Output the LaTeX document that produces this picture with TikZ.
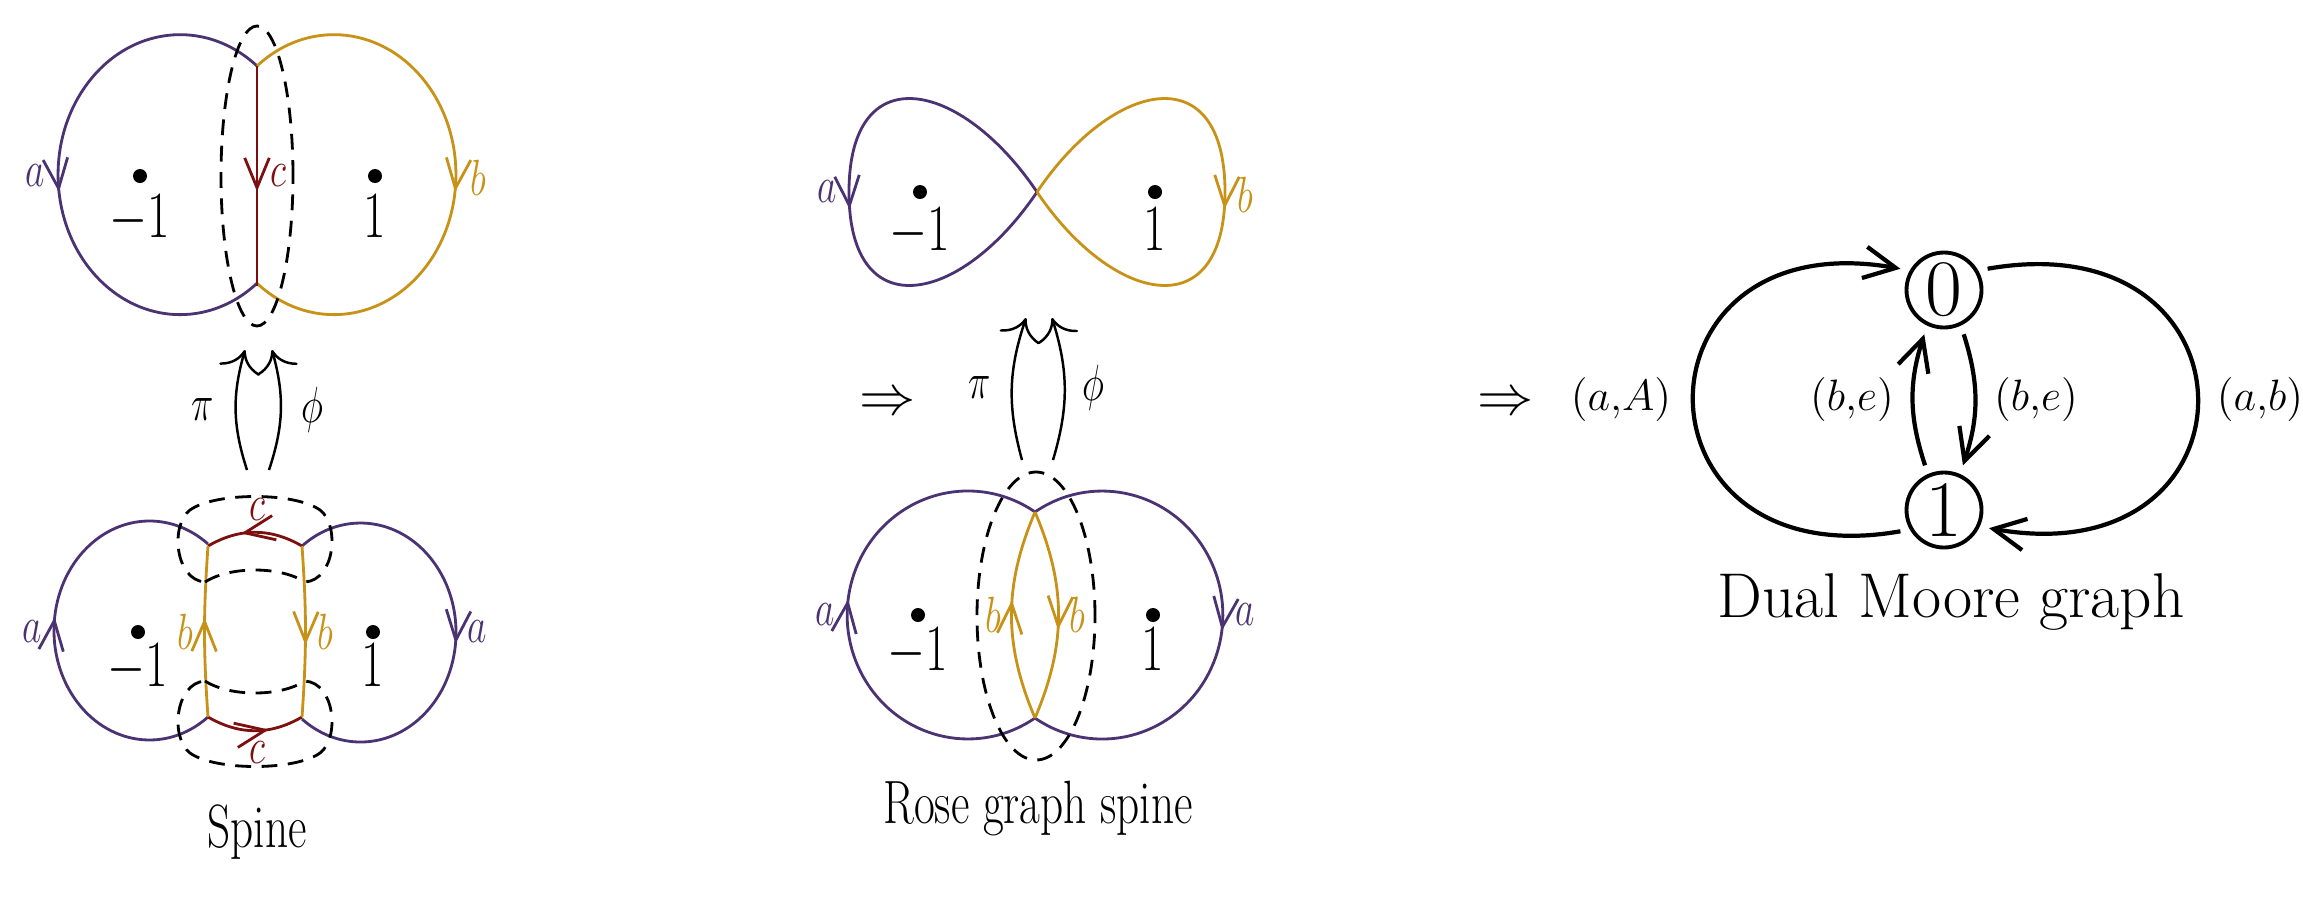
\RequirePackage{fix-cm}
\documentclass[tikz,border=0pt]{standalone}
\usetikzlibrary{arrows.meta,decorations.markings}
\definecolor{vio}{RGB}{75,50,115}
\definecolor{gold}{RGB}{200,146,25}
\definecolor{wine}{RGB}{125,15,15}
\newcommand{\sx}[1]{\scalebox{0.74}[1]{#1}}
\tikzset{
  curve/.style={line width=0.8pt},
  dsh/.style={line width=0.8pt, dash pattern=on 4.5pt off 3pt},
  marr/.style={postaction={decorate,decoration={markings,mark=at position #1 with {\arrow{Straight Barb[length=8.5pt,width=7pt]}}}}},
  lbl/.style={font=\fontsize{14.5}{17}\selectfont, inner sep=0pt},
  num/.style={font=\fontsize{18.8}{22}\selectfont, anchor=base, inner sep=0pt},
  ttl/.style={font=\fontsize{17.4}{20}\selectfont, anchor=base, inner sep=0pt},
  maparr/.style={line width=0.7pt, -{Computer Modern Rightarrow[length=6pt,width=12pt]}},
  gnode/.style={circle, draw, line width=1.1pt, minimum size=0.75cm, inner sep=0pt, outer sep=0.11cm, font=\fontsize{22.8}{26}\selectfont},
  garr/.style={line width=1.2pt, -{Straight Barb[length=9pt,width=9pt]}},
  elbl/.style={font=\fontsize{12.5}{15}\selectfont, inner sep=0pt},
  impl/.style={font=\fontsize{16}{18}\selectfont, anchor=base, inner sep=0pt},
  dotp/.style={fill, circle, inner sep=0pt, minimum size=0.14cm},
}
\begin{document}
\begin{tikzpicture}
\useasboundingbox (0,0) rectangle (23.03,-9.03);

% ---------------- Top left ----------------
\coordinate (tlJ1) at (2.57,-0.66);
\coordinate (tlJ2) at (2.57,-2.86);
\draw[curve, vio, marr=0.53] (tlJ1) arc[start angle=50.9, end angle=309.1, x radius=1.22, y radius=1.40];
\draw[curve, gold, marr=0.53] (tlJ1) arc[start angle=129.1, end angle=-129.1, x radius=1.22, y radius=1.40];
\draw[curve, wine, marr=0.57] (tlJ1) -- (tlJ2);
\draw[dsh] (2.57,-1.76) ellipse[x radius=0.36, y radius=1.50];
\node[lbl, vio] (tla) at (0.35,-1.76) {\sx{$a$}};
\node[lbl, wine] (tlc) at (2.78,-1.76) {\sx{$c$}};
\node[lbl, gold] (tlb) at (4.78,-1.78) {\sx{$b$}};
\node[dotp] (tld1) at (1.40,-1.76) {};
\node[dotp] (tld2) at (3.75,-1.76) {};
\node[num] (tln1) at (1.40,-2.37) {\sx{$-1$}};
\node[num] (tln2) at (3.75,-2.37) {\sx{$1$}};

% ---------------- maps left ----------------
\coordinate (mlA) at (2.47,-4.70);
\coordinate (mlB) at (2.45,-3.50);
\coordinate (mlC) at (2.69,-4.70);
\coordinate (mlD) at (2.72,-3.50);
\draw[maparr] (mlA) to[bend left=17] (mlB);
\draw[maparr] (mlC) to[bend right=17] (mlD);
\node[lbl] (mlpi) at (2.03,-4.10) {\sx{$\pi$}};
\node[lbl] (mlphi) at (3.12,-4.10) {\sx{$\phi$}};

% ---------------- Bottom left ----------------
\coordinate (A) at (2.08,-5.46);
\coordinate (B) at (3.02,-5.46);
\coordinate (C) at (2.08,-7.17);
\coordinate (D) at (3.02,-7.17);
\draw[curve, vio, marr=0.53] (C) arc[start angle=-52.2, end angle=-307.8, x radius=0.955, y radius=1.095];
\draw[curve, vio, marr=0.525] (B) arc[start angle=127.8, end angle=-127.8, x radius=0.955, y radius=1.095];
\draw[curve, wine, marr=0.64] (B) to[bend right=30] (A);
\draw[curve, wine, marr=0.64] (C) to[bend right=30] (D);
\draw[curve, gold, marr=0.58] (C) to[bend left=4] (A);
\draw[curve, gold, marr=0.58] (B) to[bend left=4] (D);
\draw[dsh] (2.05,-5.82) .. controls (2.30,-5.66) and (2.80,-5.66) .. (3.05,-5.82)
  .. controls (3.35,-5.80) and (3.40,-5.25) .. (3.20,-5.10)
  .. controls (2.95,-4.92) and (2.15,-4.92) .. (1.90,-5.10)
  .. controls (1.70,-5.25) and (1.75,-5.80) .. cycle;
\begin{scope}[shift={(0,-12.63)}, yscale=-1]
\draw[dsh] (2.05,-5.82) .. controls (2.30,-5.66) and (2.80,-5.66) .. (3.05,-5.82)
  .. controls (3.35,-5.80) and (3.40,-5.25) .. (3.20,-5.10)
  .. controls (2.95,-4.92) and (2.15,-4.92) .. (1.90,-5.10)
  .. controls (1.70,-5.25) and (1.75,-5.80) .. cycle;
\end{scope}
\node[lbl, vio] (bla1) at (0.32,-6.32) {\sx{$a$}};
\node[lbl, vio] (bla2) at (4.77,-6.32) {\sx{$a$}};
\node[lbl, gold] (blb1) at (1.85,-6.32) {\sx{$b$}};
\node[lbl, gold] (blb2) at (3.25,-6.32) {\sx{$b$}};
\node[lbl, wine] (blc1) at (2.57,-5.10) {\sx{$c$}};
\node[lbl, wine] (blc2) at (2.57,-7.53) {\sx{$c$}};
\node[dotp] (bld1) at (1.38,-6.32) {};
\node[dotp] (bld2) at (3.73,-6.32) {};
\node[num] (bln1) at (1.38,-6.86) {\sx{$-1$}};
\node[num] (bln2) at (3.73,-6.86) {\sx{$1$}};
\node[ttl] (spine) at (2.57,-8.47) {\sx{Spine}};

% ---------------- Top middle ----------------
\coordinate (X) at (10.37,-1.92);
\coordinate (L) at (8.49,-1.92);
\coordinate (R) at (12.25,-1.92);
\draw[curve, vio, marr=0.53] (X) .. controls +(124:1.36) and +(90:1.36) .. (L) .. controls +(-90:1.36) and +(236:1.36) .. (X);
\draw[curve, gold, marr=0.53] (X) .. controls +(56:1.36) and +(90:1.36) .. (R) .. controls +(-90:1.36) and +(-56:1.36) .. (X);
\node[lbl, vio] (tma) at (8.27,-1.92) {\sx{$a$}};
\node[lbl, gold] (tmb) at (12.45,-1.95) {\sx{$b$}};
\node[dotp] (tmd1) at (9.20,-1.92) {};
\node[dotp] (tmd2) at (11.55,-1.92) {};
\node[num] (tmn1) at (9.20,-2.50) {\sx{$-1$}};
\node[num] (tmn2) at (11.55,-2.50) {\sx{$1$}};

% ---------------- maps middle ----------------
\coordinate (mmA) at (10.22,-4.60);
\coordinate (mmB) at (10.26,-3.18);
\coordinate (mmC) at (10.53,-4.60);
\coordinate (mmD) at (10.52,-3.18);
\draw[maparr] (mmA) to[bend left=17] (mmB);
\draw[maparr] (mmC) to[bend right=17] (mmD);
\node[lbl] (mmpi) at (9.80,-3.88) {\sx{$\pi$}};
\node[lbl] (mmphi) at (10.93,-3.88) {\sx{$\phi$}};

% ---------------- Bottom middle ----------------
\coordinate (P) at (10.35,-5.12);
\coordinate (Q) at (10.35,-7.18);
\draw[curve, vio, marr=0.53] (Q) arc[start angle=-56.2, end angle=-303.8, x radius=1.207, y radius=1.24];
\draw[curve, vio, marr=0.53] (P) arc[start angle=123.8, end angle=-123.8, x radius=1.207, y radius=1.24];
\draw[curve, gold, marr=0.57] (Q) to[bend left=23] (P);
\draw[curve, gold, marr=0.57] (P) to[bend left=23] (Q);
\draw[dsh] (10.36,-6.16) ellipse[x radius=0.59, y radius=1.44];
\node[lbl, vio] (bma1) at (8.25,-6.15) {\sx{$a$}};
\node[lbl, vio] (bma2) at (12.45,-6.15) {\sx{$a$}};
\node[lbl, gold] (bmb1) at (9.93,-6.15) {\sx{$b$}};
\node[lbl, gold] (bmb2) at (10.77,-6.15) {\sx{$b$}};
\node[dotp] (bmd1) at (9.18,-6.15) {};
\node[dotp] (bmd2) at (11.53,-6.15) {};
\node[num] (bmn1) at (9.18,-6.70) {\sx{$-1$}};
\node[num] (bmn2) at (11.53,-6.70) {\sx{$1$}};
\node[ttl] (rose) at (10.38,-8.23) {\sx{Rose graph spine}};

% ---------------- implications ----------------
\node[impl] (imp1) at (8.88,-4.14) {$\Rightarrow$};
\node[impl] (imp2) at (15.06,-4.14) {$\Rightarrow$};

% ---------------- Dual Moore graph ----------------
\node[gnode] (n0) at (19.44,-2.90) {0};
\node[gnode] (n1) at (19.44,-5.10) {1};
\draw[garr] (n1.206) .. controls +(190:2.80) and +(170:2.80) .. (n0.154);
\draw[garr] (n0.26) .. controls +(10:2.83) and +(-10:2.83) .. (n1.-22);
\draw[garr] (n1.113) to[bend left=18] (n0.246);
\draw[garr] (n0.-66) to[bend left=18] (n1.67);
\node[elbl] (laA) at (16.21,-4.00) {$(a{,}A)$};
\node[elbl] (lbe1) at (18.52,-4.00) {$(b{,}e)$};
\node[elbl] (lbe2) at (20.36,-4.00) {$(b{,}e)$};
\node[elbl] (lab) at (22.60,-4.00) {$(a{,}b)$};
\node[font=\fontsize{18}{21}\selectfont, anchor=base, inner sep=0pt] (dmg) at (19.51,-6.17) {Dual Moore graph};
\end{tikzpicture}
\end{document}
